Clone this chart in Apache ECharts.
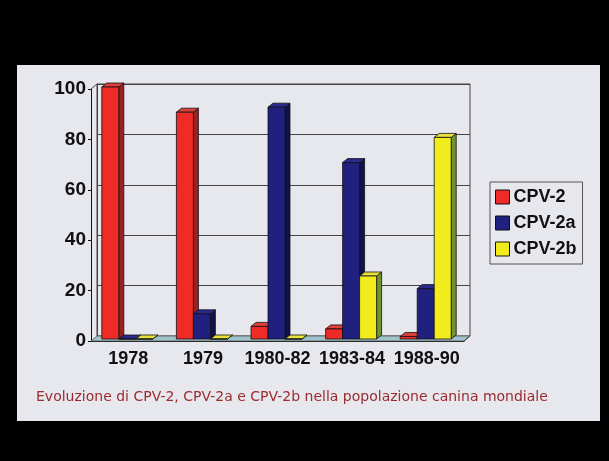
<!DOCTYPE html>
<html>
<head>
<meta charset="utf-8">
<script src="https://cdn.jsdelivr.net/npm/echarts@6/dist/echarts.min.js"></script>
<style>
  html, body { margin: 0; padding: 0; background: #000; }
  #main { width: 609px; height: 461px; }
</style>
</head>
<body>
<div id="main"></div>
<script>
var categories = ['1978', '1979', '1980-82', '1983-84', '1988-90'];
var cpv2 = [100, 90, 5, 4, 1];
var cpv2a = [0, 10, 92, 70, 20];
var cpv2b = [0, 0, 0, 25, 80];
var yMax = 100;

// front, side, top colours of the 3d columns
var looks = {
    'CPV-2': ['#ee2b26', '#9c2222', '#e0403a'],
    'CPV-2a': ['#20207f', '#12124a', '#2a2a90'],
    'CPV-2b': ['#f2ec1c', '#6e9530', '#e8e23a']
};

function toPairs(arr) {
    return arr.map(function (v, i) { return [i, v]; });
}

function columnRenderer(slot, look) {
    return function (params, api) {
        var cat = api.value(0), v = api.value(1);
        var base = api.coord([cat, 0]);
        var tip = api.coord([cat, v]);
        var w = 17, dx = 5, dy = 4;
        var x0 = base[0] + slot * 17 - w / 2 - 1;
        var x1 = x0 + w;
        var yb = base[1] - 2, yt = tip[1] - 2;
        var st = {stroke: '#111', lineWidth: 0.8};
        return {
            type: 'group',
            children: [
                {type: 'polygon', shape: {points: [[x1, yb], [x1 + dx, yb - dy], [x1 + dx, yt - dy], [x1, yt]]},
                    style: {fill: look[1], stroke: st.stroke, lineWidth: st.lineWidth}},
                {type: 'polygon', shape: {points: [[x0, yt], [x0 + dx, yt - dy], [x1 + dx, yt - dy], [x1, yt]]},
                    style: {fill: look[2], stroke: st.stroke, lineWidth: st.lineWidth}},
                {type: 'rect', shape: {x: x0, y: yt, width: w, height: yb - yt},
                    style: {fill: look[0], stroke: st.stroke, lineWidth: st.lineWidth}}
            ]
        };
    };
}

// floor and left wall of the 3d box
function frameRenderer(params, api) {
    var band = api.size([1, 0])[0];
    var p0 = api.coord([0, 0]);
    var pN = api.coord([categories.length - 1, 0]);
    var yT = api.coord([0, yMax])[1];
    var xl = p0[0] - band / 2, xr = pN[0] + band / 2, y0 = p0[1];
    return {
        type: 'group',
        children: [
            {type: 'polygon', shape: {points: [[xl, y0], [xl + 6, y0 - 5], [xr + 6, y0 - 5], [xr, y0]]},
                style: {fill: '#9fc3cc', stroke: '#555', lineWidth: 0.8}},
            {type: 'polyline', shape: {points: [[xl, yT], [xl + 6, yT - 5]]},
                style: {fill: null, stroke: '#444', lineWidth: 1}},
            {type: 'polyline', shape: {points: [[xr, y0], [xr + 6, y0 - 5]]},
                style: {fill: null, stroke: '#444', lineWidth: 1}}
        ]
    };
}

var myChart = echarts.init(document.getElementById('main'));
var labelFont = {fontFamily: 'Liberation Sans', fontWeight: 'bold', fontSize: 18, color: '#111'};

var option = {
    backgroundColor: '#000',
    animation: false,
    graphic: [
        {type: 'rect', z: -10, shape: {x: 17, y: 65, width: 583, height: 356}, style: {fill: '#e7e7ee'}}
    ],
    title: {
        text: 'Evoluzione di CPV-2, CPV-2a e CPV-2b nella popolazione canina mondiale',
        left: 31,
        top: 385,
        textStyle: {fontFamily: 'DejaVu Sans', fontSize: 14, fontWeight: 'normal', color: '#9a2b2e'}
    },
    legend: {
        data: ['CPV-2', 'CPV-2a', 'CPV-2b'],
        orient: 'vertical',
        left: 490,
        top: 182,
        icon: 'rect',
        itemWidth: 14,
        itemHeight: 14,
        itemGap: 8,
        padding: [6, 6, 6, 5],
        borderColor: '#555',
        borderWidth: 1,
        itemStyle: {borderColor: '#111', borderWidth: 1},
        textStyle: {fontFamily: 'Liberation Sans', fontWeight: 'bold', fontSize: 18, color: '#111', padding: [0, 0, 0, -1]}
    },
    grid: [
        {left: 91, right: 145, top: 89, bottom: 120},
        {left: 97, right: 139, top: 84, bottom: 125, show: true, borderColor: '#444', borderWidth: 1, backgroundColor: 'transparent'}
    ],
    xAxis: [
        {
            type: 'category', gridIndex: 0, data: categories,
            axisLine: {lineStyle: {color: '#111', width: 1}},
            axisTick: {length: 5, lineStyle: {color: '#111'}},
            axisLabel: Object.assign({margin: 9, interval: 0}, labelFont)
        },
        {type: 'category', gridIndex: 1, data: categories, show: false}
    ],
    yAxis: [
        {
            type: 'value', gridIndex: 0, min: 0, max: yMax, interval: 20,
            axisLine: {show: true, lineStyle: {color: '#111', width: 1}},
            axisTick: {show: true, length: 3, lineStyle: {color: '#111'}},
            splitLine: {show: false},
            axisLabel: Object.assign({}, labelFont, {margin: 5, fontSize: 19})
        },
        {
            type: 'value', gridIndex: 1, min: 0, max: yMax, interval: 20,
            axisLine: {show: true, lineStyle: {color: '#444'}},
            axisTick: {show: false},
            axisLabel: {show: false},
            splitLine: {show: true, lineStyle: {color: '#444', width: 1}}
        }
    ],
    series: [
        {name: 'frame', type: 'custom', xAxisIndex: 0, yAxisIndex: 0, z: 1,
            data: [[0, 0]], renderItem: frameRenderer, silent: true},
        {name: 'CPV-2', type: 'custom', xAxisIndex: 0, yAxisIndex: 0, z: 3,
            itemStyle: {color: looks['CPV-2'][0]}, encode: {x: 0, y: 1},
            data: toPairs(cpv2), renderItem: columnRenderer(-1, looks['CPV-2'])},
        {name: 'CPV-2a', type: 'custom', xAxisIndex: 0, yAxisIndex: 0, z: 4,
            itemStyle: {color: looks['CPV-2a'][0]}, encode: {x: 0, y: 1},
            data: toPairs(cpv2a), renderItem: columnRenderer(0, looks['CPV-2a'])},
        {name: 'CPV-2b', type: 'custom', xAxisIndex: 0, yAxisIndex: 0, z: 5,
            itemStyle: {color: looks['CPV-2b'][0]}, encode: {x: 0, y: 1},
            data: toPairs(cpv2b), renderItem: columnRenderer(1, looks['CPV-2b'])}
    ]
};

myChart.setOption(option);
</script>
</body>
</html>
